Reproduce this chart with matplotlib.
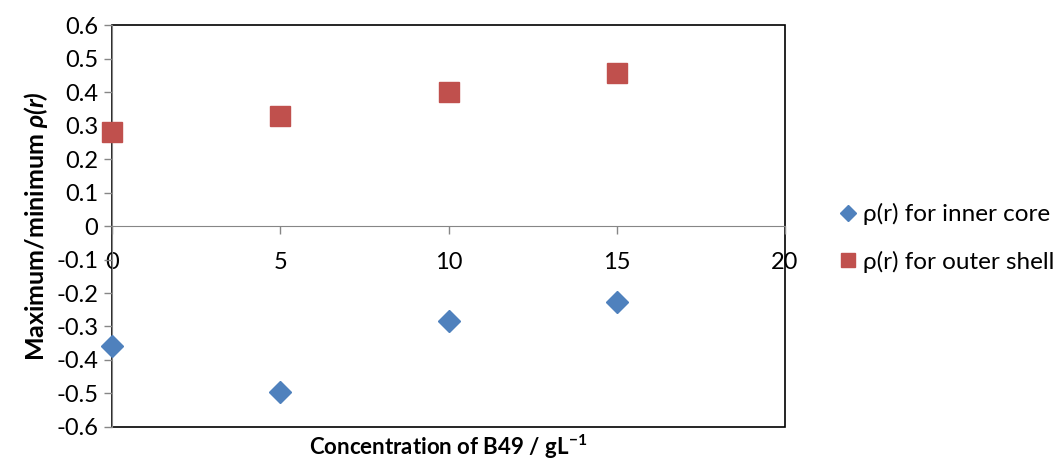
import matplotlib
matplotlib.use('Agg')
import matplotlib.pyplot as plt
from matplotlib.patches import Rectangle

plt.rcParams['font.family'] = ['Lato', 'DejaVu Sans']
plt.rcParams['mathtext.fontset'] = 'custom'
plt.rcParams['mathtext.bfit'] = 'Lato:bold:italic'
plt.rcParams['mathtext.bf'] = 'Lato:bold'
plt.rcParams['mathtext.rm'] = 'Lato:bold'

# Data
conc = [0, 5, 10, 15]
inner_core = [-0.357, -0.497, -0.284, -0.228]
outer_shell = [0.281, 0.329, 0.399, 0.458]
yticks = [-0.6, -0.5, -0.4, -0.3, -0.2, -0.1, 0, 0.1, 0.2, 0.3, 0.4, 0.5, 0.6]

blue = "#4F81BD"
red = "#C0504D"

fig = plt.figure(figsize=(10.64, 4.62), dpi=100)
ax = fig.add_axes([0.1053, 0.0758, 0.6325, 0.870])

ax.plot(conc, inner_core, linestyle='none', marker='D', ms=11, color=blue,
        label="ρ(r) for inner core", clip_on=False, zorder=5)
ax.plot(conc, outer_shell, linestyle='none', marker='s', ms=14, color=red,
        label="ρ(r) for outer shell", clip_on=False, zorder=5)

ax.set_xlim(0, 20)
ax.set_ylim(-0.6, 0.6)
ax.set_xticks([0, 5, 10, 15, 20])
ax.set_yticks(yticks)
ax.set_yticklabels([f"{v:g}" for v in yticks])

# x axis crosses at y = 0, frame drawn around plot area
ax.spines['bottom'].set_position(('data', 0))
ax.spines['bottom'].set_color('#868686')
ax.spines['left'].set_color('#868686')
ax.spines['top'].set_visible(False)
ax.spines['right'].set_visible(False)
ax.add_patch(Rectangle((0, 0), 1, 1, transform=ax.transAxes, fill=False,
                       edgecolor='black', linewidth=1.2, clip_on=False, zorder=1))
ax.spines['left'].set_zorder(2)

ax.tick_params(axis='both', direction='out', length=6, color='#868686',
               labelsize=17, width=1)
ax.tick_params(axis='x', pad=13)
ax.tick_params(axis='y', pad=4)

ax.set_ylabel(r"Maximum/minimum $\mathbfit{\rho(r)}$", fontsize=18,
              fontweight='bold', labelpad=4)
fig.text(0.4215, 0.032, r"Concentration of B49 / gL$^{\mathrm{-1}}$", fontsize=16,
         fontweight='bold', ha='center', va='center')

ax.legend(loc='center left', bbox_to_anchor=(1.04, 0.47), frameon=False,
          fontsize=17.5, handletextpad=0.0, labelspacing=1.05, handlelength=1.2,
          markerscale=0.75)

fig.savefig("out.png", dpi=100)
